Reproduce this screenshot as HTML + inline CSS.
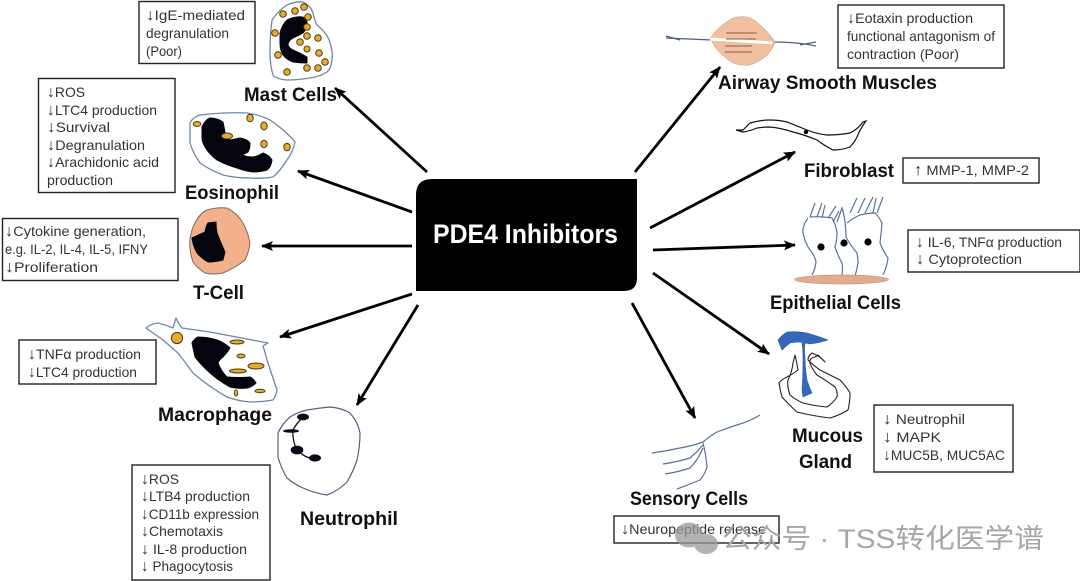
<!DOCTYPE html>
<html><head><meta charset="utf-8"><style>
html,body{margin:0;padding:0;background:#fff;width:1080px;height:581px;overflow:hidden}
svg{display:block;filter:blur(.35px)}
.s{font:14px "Liberation Sans",sans-serif;fill:#333}
.s tspan{font-size:16px}
.b{font:bold 19px "Liberation Sans",sans-serif;fill:#111}
.box{fill:#fff;stroke:#222;stroke-width:1.4}
.cell{fill:#fff;stroke:#6f86a6;stroke-width:1.3;stroke-linejoin:round}
.d{fill:#e6ac2d;stroke:#4c3a10;stroke-width:1}
.ar{stroke:#000;stroke-width:2.8;fill:none;marker-end:url(#a)}
.blk{fill:#050510;stroke:#050510;stroke-width:1;stroke-linejoin:round}
.ln{fill:none;stroke:#5b7299;stroke-width:1.2}
.k{stroke:#111;stroke-width:1.2}
</style></head><body>
<svg width="1080" height="581" viewBox="0 0 1080 581" xmlns="http://www.w3.org/2000/svg">
<defs><marker id="a" markerUnits="userSpaceOnUse" markerWidth="14" markerHeight="12" refX="11" refY="5" orient="auto"><path d="M0 0L12 5L0 10L2.5 5Z" fill="#000"/></marker></defs>

<!-- central -->
<path d="M432 179H637V278Q637 291 624 291H416V195Q416 179 432 179Z" fill="#000"/>
<text x="433" y="243" font-family="Liberation Sans" font-weight="bold" font-size="27" fill="#fff" textLength="185" lengthAdjust="spacingAndGlyphs">PDE4 Inhibitors</text>

<!-- arrows -->
<path class="ar" d="M427 172L335 88"/>
<path class="ar" d="M412 212L298 171"/>
<path class="ar" d="M412 246L262 246"/>
<path class="ar" d="M412 294L280 337"/>
<path class="ar" d="M418 305L357 405"/>
<path class="ar" d="M635 172L720 67"/>
<path class="ar" d="M650 228L795 152"/>
<path class="ar" d="M653 250L795 245"/>
<path class="ar" d="M653 273L769 354"/>
<path class="ar" d="M632 303L695 418"/>

<!-- Mast -->
<path class="cell" d="M272 20Q279 10 287 5Q296 1 303 2Q311 6 313 13Q315 22 317 25Q328 34 330 43Q333 52 332 60Q331 69 327 72Q319 77 310 78Q298 80 287 80Q276 79 273 75Q270 65 270 53Q270 35 272 20Z"/>
<path class="blk" d="M280 33Q282 25 287 20Q295 16 303 17Q308 20 307 25Q306 30 303 33Q298 36 293 38Q288 41 288 45Q289 48 293 50Q300 53 307 57L307 63Q300 63 293 62Q287 60 283 55Q280 50 280 43Z"/>
<g class="d"><circle cx="283" cy="14" r="3.3"/><circle cx="295" cy="11" r="3.3"/><circle cx="304" cy="7" r="3.3"/><circle cx="308" cy="17" r="3.3"/><circle cx="307" cy="27" r="3.3"/><circle cx="307" cy="36" r="3.3"/><circle cx="275" cy="33" r="3.3"/><circle cx="318" cy="38" r="3.3"/><circle cx="300" cy="42" r="3.3"/><circle cx="307" cy="49" r="3"/><circle cx="319" cy="53" r="3.3"/><circle cx="278" cy="55" r="3.3"/><circle cx="325" cy="62" r="3.3"/><circle cx="318" cy="68" r="3.3"/><circle cx="307" cy="68" r="3.3"/><circle cx="287" cy="72" r="3.3"/></g>

<!-- Eosinophil -->
<path class="cell" d="M190 123Q193 117 200 115Q225 112 247 113Q260 115 270 120Q285 130 295 142Q293 152 287 160Q281 170 273 177Q262 179 250 178Q235 178 223 175Q210 170 200 163Q193 153 190 143Z"/>
<path class="blk" d="M202 127Q205 120 210 118Q217 118 223 122L225 132Q226 137 230 140L240 138Q247 139 250 143Q250 149 248 152L242 155Q247 157 253 157Q258 156 263 153Q269 155 272 160Q271 167 267 170Q260 172 253 172Q245 171 237 168Q226 165 217 160Q209 154 205 147Q202 142 202 137Z"/>
<g class="d"><ellipse cx="197" cy="124" rx="3.8" ry="2.5"/><ellipse cx="250" cy="118" rx="3.2" ry="3.8"/><ellipse cx="264" cy="126" rx="3.2" ry="4"/><ellipse cx="227" cy="136" rx="5.5" ry="3"/><ellipse cx="264" cy="144" rx="3.2" ry="3.6"/><ellipse cx="287" cy="147" rx="3.2" ry="3.8"/></g>

<!-- T cell -->
<path d="M190 240Q191 230 195 223Q200 213 207 210Q217 207 227 208Q237 213 243 223Q248 232 250 243Q249 252 245 260Q235 268 223 273Q213 275 205 273Q197 268 193 262Q189 250 190 240Z" fill="#f2b18c" stroke="#7a6a60" stroke-width="1"/>
<path class="blk" d="M192 238L205 232Q206 226 208 223L216 222Q216 228 217 233Q221 243 225 252L223 260Q215 262 208 262Q201 258 197 253Q193 246 192 238Z"/>

<!-- Macrophage -->
<path class="cell" d="M146 328Q150 324 158 323Q166 325 173 328L176 318Q178 323 182 328Q196 330 210 332L268 343L263 346Q265 352 267 360Q272 375 277 390Q276 396 273 400Q262 402 250 402Q238 401 227 397Q208 386 193 373Q185 362 178 353Q170 346 163 340Z"/>
<circle class="d" cx="177" cy="338" r="5.6"/>
<path class="blk" d="M192 343Q194 339 198 337Q208 337 217 340Q225 343 230 348Q227 353 223 357Q219 360 218 363Q221 371 227 377Q240 378 250 377Q254 379 256 383Q252 387 247 388Q238 389 230 387Q219 381 210 373Q201 365 195 357Z"/>
<g class="d"><ellipse cx="237" cy="342" rx="7" ry="2"/><ellipse cx="241" cy="356" rx="4" ry="2"/><ellipse cx="256" cy="366" rx="8" ry="3"/><ellipse cx="238" cy="371" rx="8.5" ry="2"/><ellipse cx="260" cy="391" rx="5" ry="1.7"/><ellipse cx="236" cy="393" rx="1.7" ry="3"/></g>

<!-- Neutrophil -->
<path d="M278 433Q282 424 290 417Q298 412 307 410Q319 408 330 407Q342 408 350 413Q358 422 360 433Q360 447 357 460Q353 472 347 482Q338 491 327 495Q314 493 303 488Q294 484 287 478Q281 468 278 457Z" fill="#fff" stroke="#556077" stroke-width="1.2"/>
<path d="M303 417Q296 424 293 430Q292 440 297 450Q305 458 314 459" fill="none" stroke="#111" stroke-width="1.3"/>
<g fill="#0a0a18"><ellipse cx="303" cy="417" rx="6" ry="3.4"/><ellipse cx="291" cy="431" rx="8" ry="1.8"/><ellipse cx="297" cy="450" rx="6.3" ry="4.4"/><ellipse cx="315" cy="458" rx="6" ry="3.6"/></g>

<!-- Airway -->
<path d="M710 38Q720 25 733 18Q740 16 747 17Q754 19 760 25Q770 34 775 42Q772 50 767 55Q759 62 750 65Q741 66 733 63Q722 56 715 47Z" fill="#f2bfa0" stroke="#c9a48d" stroke-width=".6"/>
<path d="M666 38Q690 39 712 40M775 42Q797 42 816 46M666 36L680 40M800 45L816 42" fill="none" stroke="#4c5f84" stroke-width="1.2"/>
<path d="M710 39Q745 41 772 43" stroke="#fff" stroke-width="3" fill="none"/>
<path d="M726 33H757M726 39H756M725 46H752M725 52H752" stroke="#8b5b44" stroke-width="1" fill="none"/>

<!-- Fibroblast -->
<path class="k" fill="#fff" d="M736 130L743 130Q747 126 750 123Q760 120 770 120Q779 120 787 122Q797 126 807 130Q817 134 827 135Q839 135 850 133Q858 129 863 122L866 121Q860 129 857 137Q854 143 850 147Q842 150 833 150Q825 146 817 140Q805 135 793 132Q781 128 770 127Q763 127 757 128Q750 131 743 132Z"/>
<circle cx="806" cy="132" r="2.2" fill="#000"/>

<!-- Epithelial -->
<path class="ln" d="M808 218Q802 226 803 233Q805 243 810 250Q815 256 816 262Q815 270 812 275M810 217Q821 216 832 218Q836 225 837 233Q837 240 835 247Q838 256 842 263Q843 269 842 275M837 222Q840 214 842 208Q844 214 845 222Q846 230 846 237Q851 246 857 253Q858 258 858 263Q857 270 855 276M847 223Q853 218 860 215Q868 213 875 213Q879 217 882 223Q881 234 880 243Q883 251 888 258Q887 267 883 275"/>
<path class="ln" d="M810 217L815 203M817 217L822 203M822 218L825 205M828 218L836 206M833 222L839 211M850 213L857 198M858 213L865 198M865 213L873 197M873 213L876 198M877 213L883 197"/>
<ellipse cx="841.500" cy="279.500" rx="47" ry="4.500" fill="#e5a98b" stroke="#b79b84" stroke-width=".7"/>
<circle cx="821" cy="247" r="3.6" fill="#000"/><circle cx="844" cy="243" r="3.6" fill="#000"/><circle cx="868" cy="242" r="3.6" fill="#000"/>

<!-- Mucous gland -->
<path d="M795 355Q797 363 798 370Q793 374 787 377Q782 379 779 383Q780 390 782 397Q789 405 797 412Q813 416 830 418Q840 415 848 410Q850 402 850 393Q846 386 840 380Q830 375 820 370Q813 365 808 360Q808 356 812 353Q820 356 825 362L818 355Q815 357 815 357Q809 358 810 363Q812 369 817 375Q827 381 835 387Q838 392 837 397Q833 403 827 407Q815 406 803 403Q796 400 790 395Q787 387 788 380Q792 372 793 363Z" fill="#fff" stroke="#222" stroke-width="1.1" stroke-linejoin="round"/>
<path d="M778 340Q782 335 787 332Q797 331 807 333Q818 336 828 340Q819 343 810 344L805 343Q804 350 805 357Q805 368 807 380Q809 387 812 393L803 397L802 390Q803 375 803 360Q803 350 802 342Q796 342 790 343Q786 346 782 350Z" fill="#3468b8" stroke="#2d5aa0" stroke-width=".6"/>

<!-- Sensory -->
<path class="ln" d="M760 415Q752 420 743 423Q730 427 717 432Q710 436 703 442Q692 446 680 448Q666 451 652 453M703 445Q697 452 690 458Q677 462 663 464M703 448Q698 460 690 468Q678 472 665 474M703 443Q706 455 707 467Q705 474 700 480Q688 485 677 489"/>

<!-- boxes -->
<rect class="box" x="139" y="1.500" width="116" height="62"/>
<rect class="box" x="38.500" y="78.500" width="136.500" height="114"/>
<rect class="box" x="2.500" y="218.500" width="175.500" height="62"/>
<rect class="box" x="19" y="340" width="137" height="44"/>
<rect class="box" x="132" y="465" width="138" height="115"/>
<rect class="box" x="838" y="5" width="166" height="63"/>
<rect class="box" x="903" y="158" width="136" height="25"/>
<rect class="box" x="908" y="230" width="172" height="42"/>
<rect class="box" x="874" y="405" width="139" height="67"/>
<rect class="box" x="614" y="516" width="165" height="27"/>

<!-- box text -->
<g class="s">
<text x="146" y="20" textLength="99" lengthAdjust="spacingAndGlyphs"><tspan>↓</tspan>IgE-mediated</text>
<text x="146" y="38" textLength="83" lengthAdjust="spacingAndGlyphs">degranulation</text>
<text x="146" y="56" textLength="36" lengthAdjust="spacingAndGlyphs">(Poor)</text>

<text x="47" y="97" textLength="38" lengthAdjust="spacingAndGlyphs"><tspan>↓</tspan>ROS</text>
<text x="47" y="115" textLength="110" lengthAdjust="spacingAndGlyphs"><tspan>↓</tspan>LTC4 production</text>
<text x="47" y="132" textLength="63" lengthAdjust="spacingAndGlyphs"><tspan>↓</tspan>Survival</text>
<text x="47" y="150" textLength="98" lengthAdjust="spacingAndGlyphs"><tspan>↓</tspan>Degranulation</text>
<text x="47" y="167" textLength="112" lengthAdjust="spacingAndGlyphs"><tspan>↓</tspan>Arachidonic acid</text>
<text x="47" y="185" textLength="66" lengthAdjust="spacingAndGlyphs">production</text>

<text x="5" y="236" textLength="141" lengthAdjust="spacingAndGlyphs"><tspan>↓</tspan>Cytokine generation,</text>
<text x="5" y="254" textLength="143" lengthAdjust="spacingAndGlyphs">e.g. IL-2, IL-4, IL-5, IFNY</text>
<text x="5" y="272" textLength="93" lengthAdjust="spacingAndGlyphs"><tspan>↓</tspan>Proliferation</text>

<text x="28" y="359" textLength="113" lengthAdjust="spacingAndGlyphs"><tspan>↓</tspan>TNFα production</text>
<text x="28" y="377" textLength="109" lengthAdjust="spacingAndGlyphs"><tspan>↓</tspan>LTC4 production</text>

<text x="141" y="484" textLength="38" lengthAdjust="spacingAndGlyphs"><tspan>↓</tspan>ROS</text>
<text x="141" y="501" textLength="109" lengthAdjust="spacingAndGlyphs"><tspan>↓</tspan>LTB4 production</text>
<text x="141" y="519" textLength="118" lengthAdjust="spacingAndGlyphs"><tspan>↓</tspan>CD11b expression</text>
<text x="141" y="536" textLength="82" lengthAdjust="spacingAndGlyphs"><tspan>↓</tspan>Chemotaxis</text>
<text x="141" y="554" textLength="106" lengthAdjust="spacingAndGlyphs"><tspan>↓</tspan> IL-8 production</text>
<text x="141" y="571" textLength="92" lengthAdjust="spacingAndGlyphs"><tspan>↓</tspan> Phagocytosis</text>

<text x="847" y="23" textLength="126" lengthAdjust="spacingAndGlyphs"><tspan>↓</tspan>Eotaxin production</text>
<text x="847" y="41" textLength="148" lengthAdjust="spacingAndGlyphs">functional antagonism of</text>
<text x="847" y="59" textLength="112" lengthAdjust="spacingAndGlyphs">contraction (Poor)</text>

<text x="914" y="175" textLength="115" lengthAdjust="spacingAndGlyphs"><tspan>↑</tspan> MMP-1, MMP-2</text>

<text x="916" y="247" textLength="146" lengthAdjust="spacingAndGlyphs"><tspan>↓</tspan> IL-6, TNFα production</text>
<text x="916" y="264" textLength="106" lengthAdjust="spacingAndGlyphs"><tspan>↓</tspan> Cytoprotection</text>

<text x="883" y="424" textLength="82" lengthAdjust="spacingAndGlyphs"><tspan>↓</tspan> Neutrophil</text>
<text x="883" y="442" textLength="58" lengthAdjust="spacingAndGlyphs"><tspan>↓</tspan> MAPK</text>
<text x="883" y="460" textLength="122" lengthAdjust="spacingAndGlyphs"><tspan>↓</tspan>MUC5B, MUC5AC</text>

<text x="621" y="534" textLength="145" lengthAdjust="spacingAndGlyphs"><tspan>↓</tspan>Neuropeptide release</text>
</g>

<!-- labels -->
<g class="b">
<text x="244" y="101" textLength="93" lengthAdjust="spacingAndGlyphs">Mast Cells</text>
<text x="185" y="199" textLength="94" lengthAdjust="spacingAndGlyphs">Eosinophil</text>
<text x="193" y="299" textLength="51" lengthAdjust="spacingAndGlyphs">T-Cell</text>
<text x="158" y="421" textLength="114" lengthAdjust="spacingAndGlyphs">Macrophage</text>
<text x="300" y="525" textLength="98" lengthAdjust="spacingAndGlyphs">Neutrophil</text>
<text x="718" y="89" textLength="219" lengthAdjust="spacingAndGlyphs">Airway Smooth Muscles</text>
<text x="804" y="177" textLength="90" lengthAdjust="spacingAndGlyphs">Fibroblast</text>
<text x="770" y="309" textLength="131" lengthAdjust="spacingAndGlyphs">Epithelial Cells</text>
<text x="792" y="442" textLength="71" lengthAdjust="spacingAndGlyphs">Mucous</text>
<text x="799" y="468" textLength="53" lengthAdjust="spacingAndGlyphs">Gland</text>
<text x="630" y="505" textLength="118" lengthAdjust="spacingAndGlyphs">Sensory Cells</text>
</g>

<!-- watermark -->
<g fill="#9a9a9a" opacity=".75">
<ellipse cx="689" cy="535" rx="14" ry="12.500"/>
<ellipse cx="706" cy="544" rx="12" ry="10"/>
</g>
<text x="722" y="548" font-family="'Liberation Sans','Noto Sans CJK SC',sans-serif" font-size="27" fill="#a6a6a6" textLength="322" lengthAdjust="spacingAndGlyphs">公众号 · TSS转化医学谱</text>
</svg>
</body></html>
